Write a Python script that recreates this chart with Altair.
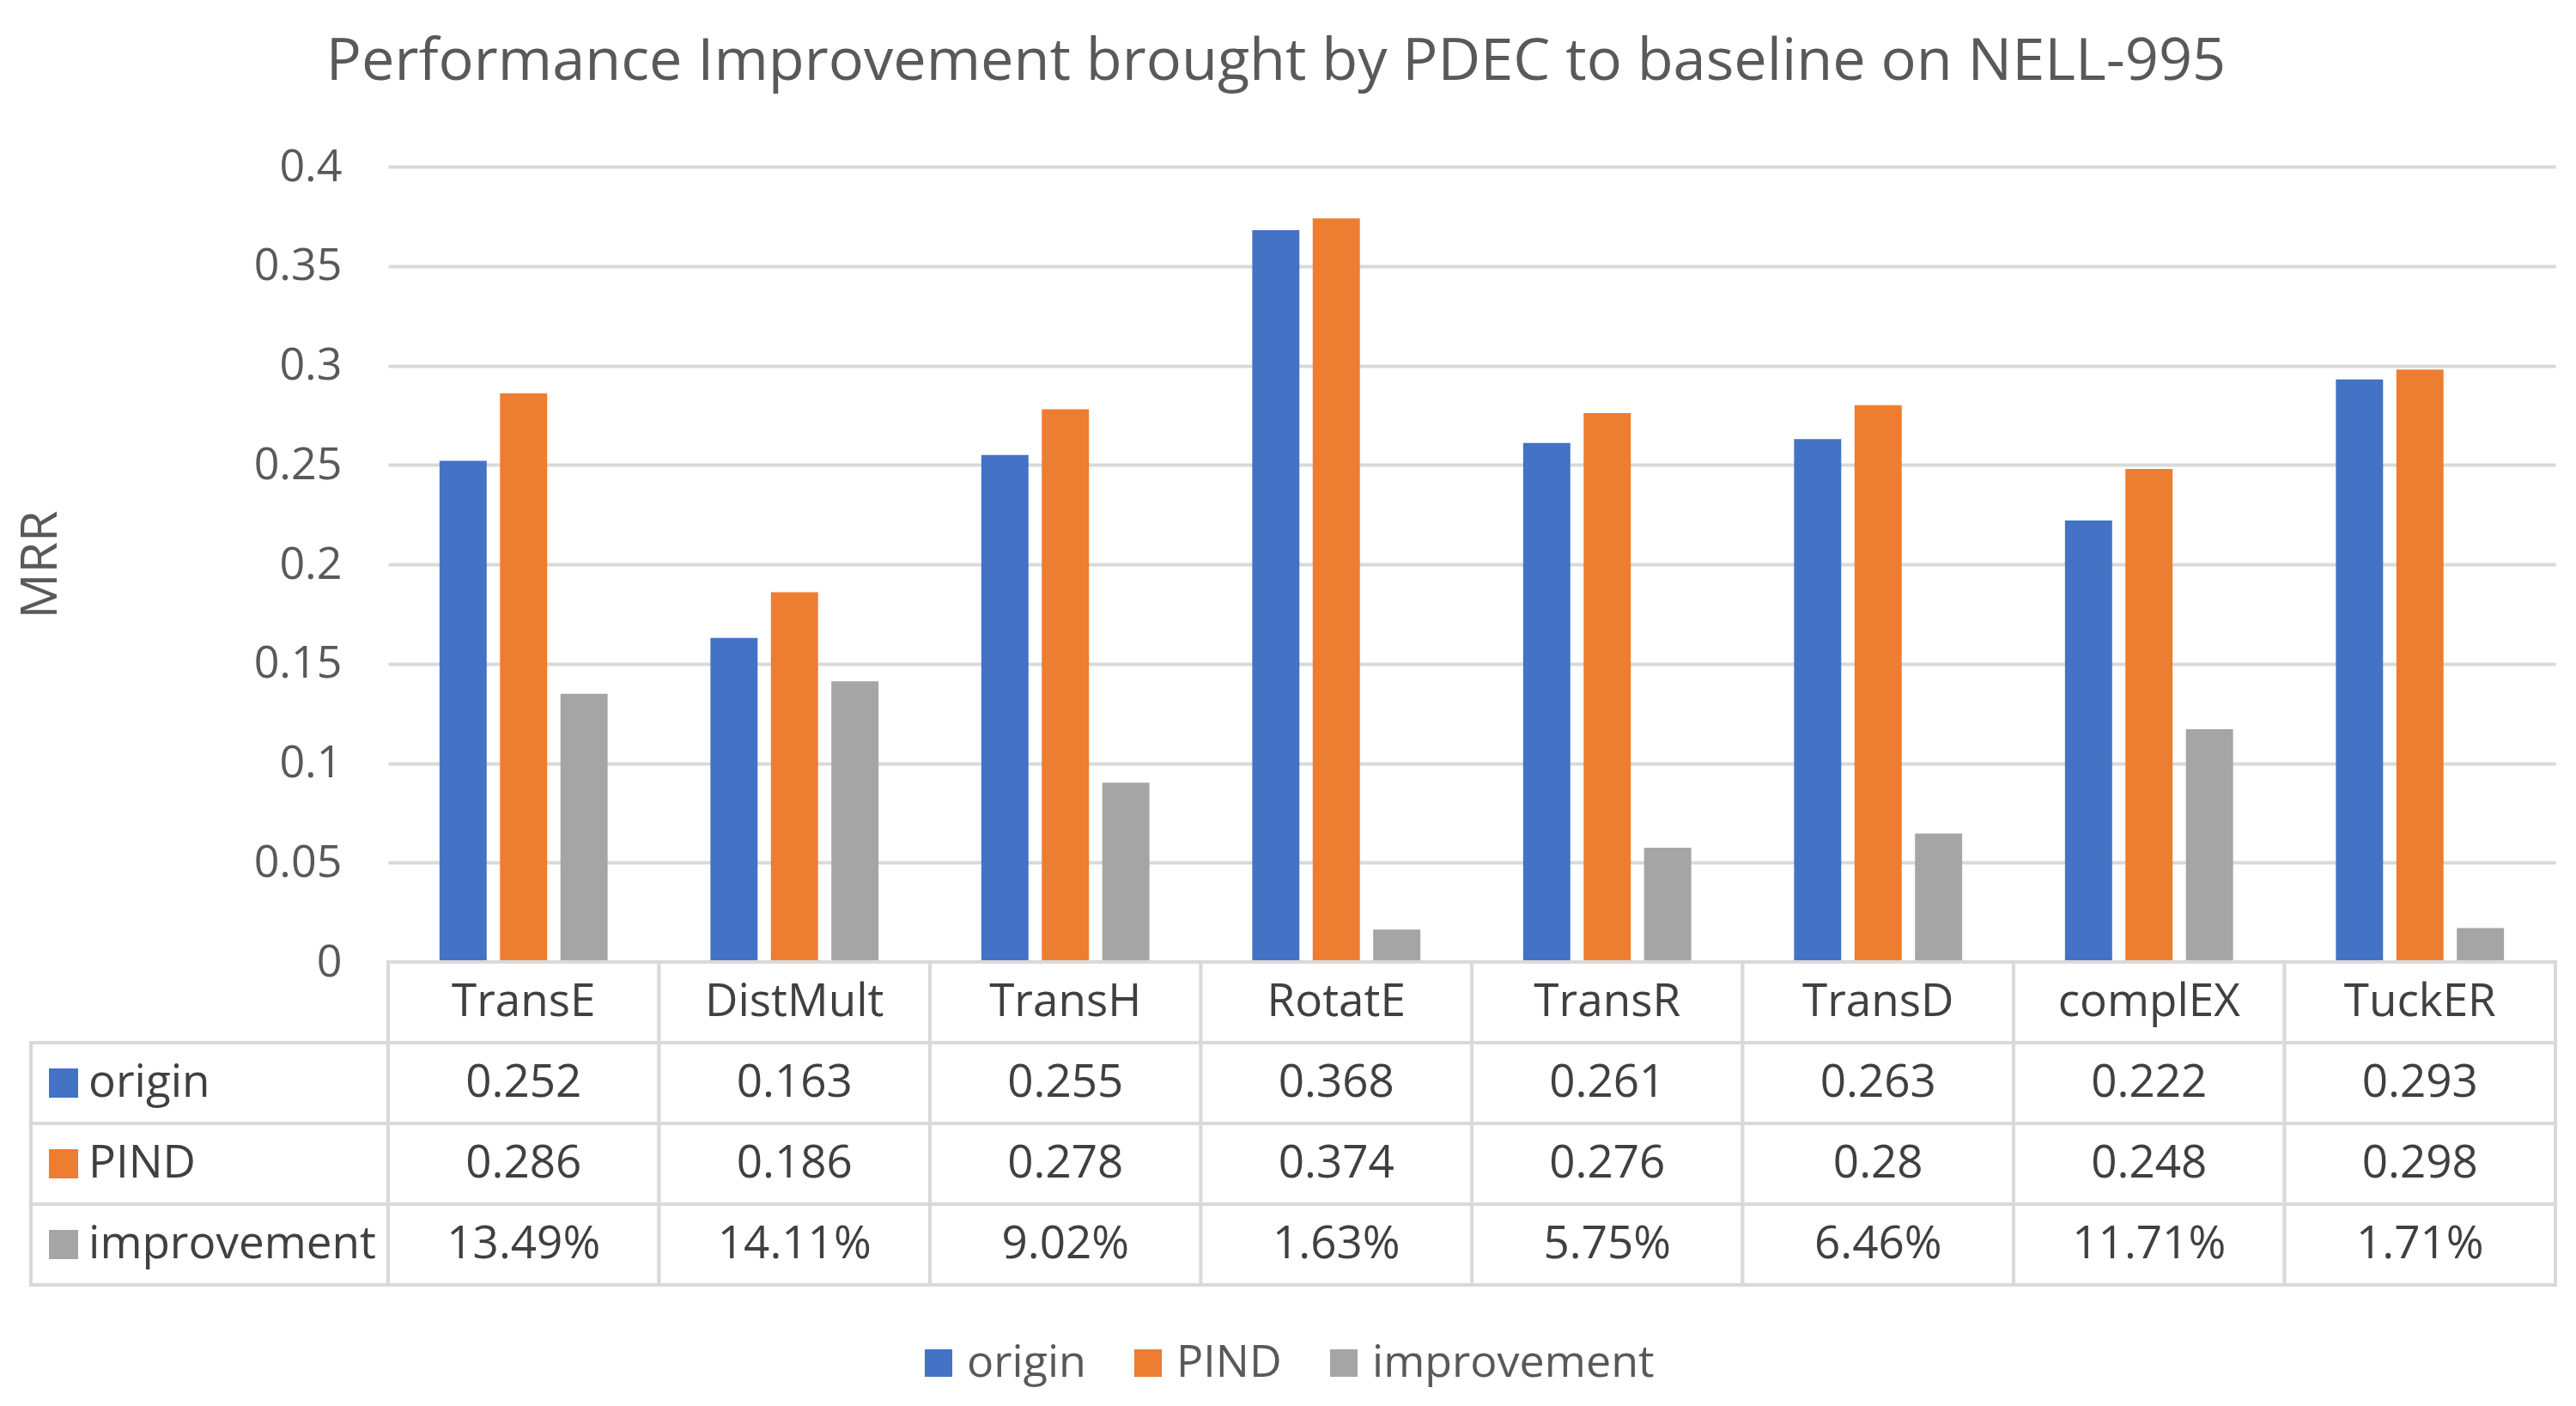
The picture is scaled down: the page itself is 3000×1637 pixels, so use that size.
import altair as alt
import pandas as pd

categories = ["TransE", "DistMult", "TransH", "RotatE", "TransR", "TransD", "complEX", "TuckER"]
origin = [0.252, 0.163, 0.255, 0.368, 0.261, 0.263, 0.222, 0.293]
pind = [0.286, 0.186, 0.278, 0.374, 0.276, 0.28, 0.248, 0.298]
improvement_pct = [13.49, 14.11, 9.02, 1.63, 5.75, 6.46, 11.71, 1.71]
series = ["origin", "PIND", "improvement"]
colors = ["#4472C4", "#ED7D31", "#A5A5A5"]
y_ticks = [0, 0.05, 0.1, 0.15, 0.2, 0.25, 0.3, 0.35, 0.4]
rows = ["header"] + series

FONT = "Open Sans"
GRID = "#D9D9D9"
TXT = "#595959"
TXT_DARK = "#404040"

# bar data
bar_records = []
for i, c in enumerate(categories):
    bar_records.append({"category": c, "series": "origin", "value": origin[i]})
    bar_records.append({"category": c, "series": "PIND", "value": pind[i]})
    bar_records.append({"category": c, "series": "improvement", "value": improvement_pct[i] / 100})
bar_df = pd.DataFrame(bar_records)

# table data
cell_records = []
for i, c in enumerate(categories):
    cell_records.append({"category": c, "row": "header", "text": c})
    cell_records.append({"category": c, "row": "origin", "text": str(origin[i])})
    cell_records.append({"category": c, "row": "PIND", "text": str(pind[i])})
    cell_records.append({"category": c, "row": "improvement", "text": f"{improvement_pct[i]:.2f}%"})
cell_df = pd.DataFrame(cell_records)
label_df = pd.DataFrame({"row": series, "series": series})

legend = alt.Legend(
    title=None, orient="none", legendX=1031, legendY=1367, direction="horizontal",
    symbolType="square", symbolSize=1024, symbolStrokeWidth=0,
    labelFont=FONT, labelFontSize=52, labelColor=TXT, labelOffset=7,
    columnPadding=46, labelLimit=0,
)
color_scale = alt.Scale(domain=series, range=colors)

W_LABEL = 416
W_PLOT = 2524
H_PLOT = 926
H_TABLE = 376

blank = alt.Chart(pd.DataFrame({"v": [0]})).mark_point(opacity=0).encode(
    x=alt.value(0), y=alt.value(0)
).properties(width=W_LABEL, height=H_PLOT)

bars = alt.Chart(bar_df).mark_bar().encode(
    x=alt.X("category:N", sort=categories, axis=None,
            scale=alt.Scale(paddingInner=0, paddingOuter=0)),
    xOffset=alt.XOffset("series:N", sort=series,
                        scale=alt.Scale(paddingInner=0.22, paddingOuter=0.85)),
    y=alt.Y("value:Q", scale=alt.Scale(domain=[0, 0.4], nice=False, zero=True),
            axis=alt.Axis(values=y_ticks, format="~g", title="MRR", domain=False, ticks=False,
                          labelFont=FONT, labelFontSize=52, labelColor=TXT, labelPadding=54,
                          gridColor=GRID, gridWidth=4,
                          titleFont=FONT, titleFontSize=59, titleFontWeight="normal",
                          titleColor=TXT, titlePadding=218)),
    color=alt.Color("series:N", sort=series, scale=color_scale, legend=legend),
).properties(width=W_PLOT, height=H_PLOT)

row_y = alt.Y("row:N", sort=rows, axis=None,
              scale=alt.Scale(domain=rows, paddingInner=0, paddingOuter=0))

labels = alt.layer(
    alt.Chart(label_df).mark_rect(fill="white", stroke=GRID, strokeWidth=4).encode(y=row_y),
    alt.Chart(label_df).mark_square(size=1156, opacity=1).encode(
        x=alt.value(38), y=row_y,
        color=alt.Color("series:N", sort=series, scale=color_scale, legend=legend)),
    alt.Chart(label_df).mark_text(align="left", baseline="middle", font=FONT, fontSize=53,
                                  color=TXT_DARK).encode(
        x=alt.value(67), y=row_y, text="row:N"),
).properties(width=W_LABEL, height=H_TABLE)

col_x = alt.X("category:N", sort=categories, axis=None,
              scale=alt.Scale(domain=categories, paddingInner=0, paddingOuter=0))

table = alt.layer(
    alt.Chart(cell_df).mark_rect(fill="white", stroke=GRID, strokeWidth=4).encode(x=col_x, y=row_y),
    alt.Chart(cell_df).mark_text(baseline="middle", font=FONT, fontSize=53, color=TXT_DARK).encode(
        x=col_x, y=row_y, text="text:N"),
).properties(width=W_PLOT, height=H_TABLE)

chart = alt.concat(
    blank, bars, labels, table, columns=2, spacing=0, bounds="flush"
).resolve_scale(
    color="shared", x="independent", y="independent"
).properties(
    title=alt.Title("Performance Improvement brought by PDEC to baseline on NELL-995",
                    font=FONT, fontSize=68.5, fontWeight="normal", color=TXT,
                    anchor="middle", offset=61, dx=-12),
    padding={"left": 10, "top": 29, "right": 10, "bottom": 10},
    background="white",
).configure_view(stroke=None)

chart.save("out.html", embed_options={"renderer": "svg", "actions": False})
